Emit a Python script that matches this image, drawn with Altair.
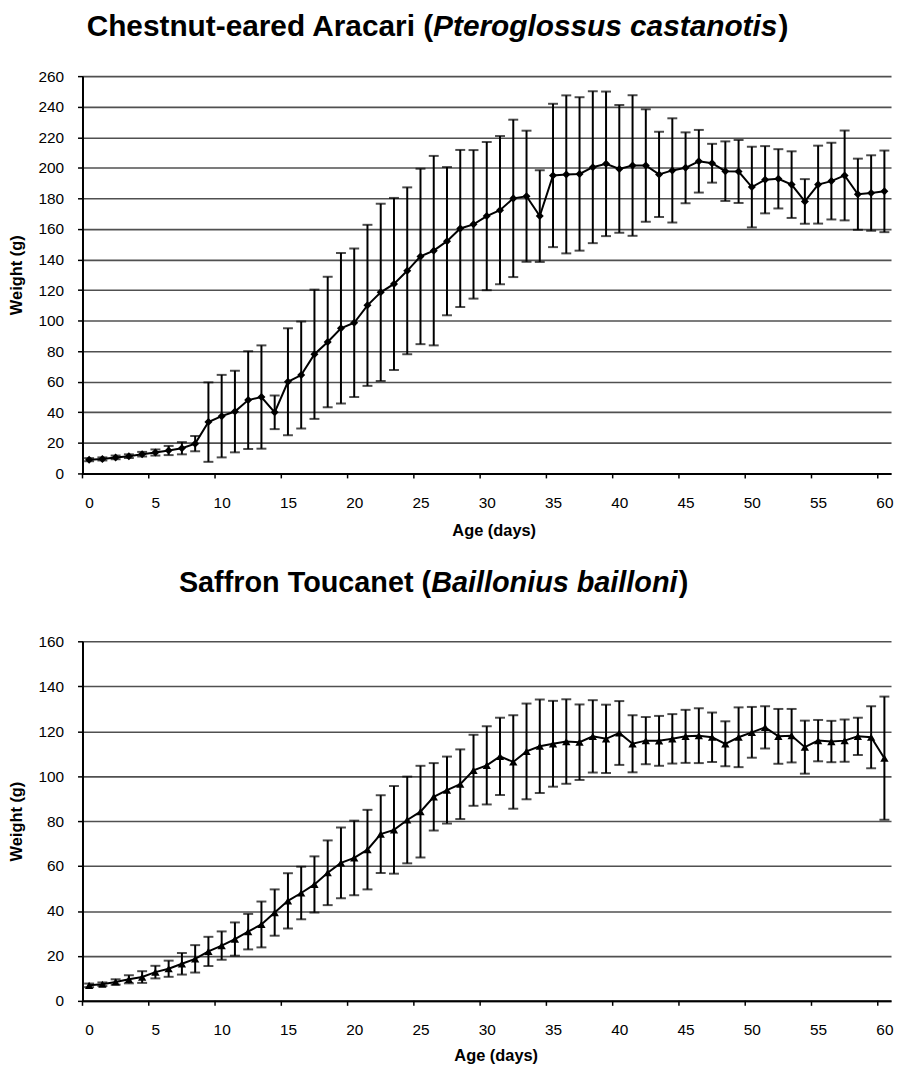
import altair as alt
import pandas as pd

# ---------------- data ----------------
days = list(range(61))

aracari_mean = [9.0, 9.5, 10.5, 11.3, 12.6, 13.7, 15.0, 16.5, 19.5, 33.6,
                37.5, 40.5, 48.0, 50.0, 40.0, 60.0, 64.4, 78.0, 86.0, 95.0,
                98.6, 110.0, 118.5, 124.0, 132.6, 142.0, 145.8, 152.0, 160.3, 163.0,
                168.4, 172.3, 180.0, 181.4, 168.4, 195.0, 195.7, 196.0, 200.4, 202.6,
                199.3, 201.5, 201.5, 195.7, 198.3, 200.0, 204.3, 203.0, 197.8, 197.6,
                187.4, 192.2, 192.8, 189.0, 178.0, 189.0, 191.3, 195.0, 182.7, 183.5,
                184.6]
aracari_sd = [1.0, 1.0, 1.2, 1.2, 1.5, 2.0, 3.0, 4.0, 5.0, 26.0,
              27.0, 26.7, 32.0, 33.8, 11.0, 35.0, 35.0, 42.3, 42.7, 49.3,
              48.6, 52.7, 58.0, 56.3, 54.6, 57.4, 62.0, 48.5, 51.4, 48.6,
              48.5, 48.5, 51.5, 42.9, 30.0, 46.9, 51.7, 50.2, 49.7, 47.3,
              41.8, 46.0, 36.8, 27.9, 34.1, 23.2, 20.5, 12.7, 19.5, 20.6,
              26.4, 22.0, 19.4, 21.8, 14.6, 25.5, 25.1, 29.4, 23.3, 24.7,
              26.7]

toucanet_mean = [6.9, 7.4, 8.4, 9.6, 10.6, 12.8, 14.3, 16.5, 18.7, 22.0,
                 24.6, 27.5, 30.8, 34.0, 39.3, 44.5, 48.0, 51.8, 57.0, 61.4,
                 63.6, 67.3, 74.2, 76.1, 80.5, 84.2, 90.8, 93.8, 96.4, 102.6,
                 104.8, 108.8, 106.3, 111.0, 113.3, 114.4, 115.4, 115.1, 117.7, 116.6,
                 119.2, 114.4, 115.8, 115.7, 116.6, 117.7, 118.0, 117.3, 114.4, 117.3,
                 119.5, 121.7, 117.7, 118.0, 112.9, 115.8, 115.4, 115.8, 117.7, 117.3,
                 108.0]
toucanet_sd = [0.8, 0.8, 1.2, 1.8, 2.6, 2.8, 3.6, 4.8, 6.1, 6.5,
               6.3, 7.4, 7.9, 10.2, 10.3, 12.3, 11.7, 12.5, 14.4, 15.7,
               16.6, 17.7, 17.3, 19.5, 19.3, 20.4, 15.0, 14.9, 15.5, 15.8,
               17.4, 17.2, 20.8, 21.3, 20.8, 19.1, 18.8, 16.8, 16.1, 15.2,
               14.2, 12.7, 10.5, 11.1, 11.0, 11.8, 12.2, 11.0, 10.0, 13.3,
               11.3, 9.4, 12.2, 11.9, 11.8, 9.2, 9.2, 9.4, 8.3, 13.8,
               27.4]

x_label_values = list(range(0, 61, 5))
x_tick_positions = [-0.5 + 5 * i for i in range(13)]   # category boundaries
aracari_yticks = list(range(0, 261, 20))
toucanet_yticks = list(range(0, 161, 20))

title_top = ["Chestnut-eared Aracari (", "Pteroglossus castanotis", ")"]
title_bottom = ["Saffron Toucanet (", "Baillonius bailloni", ")"]

FONT = "Liberation Sans"
W = 814


def panel(mean, sd, yticks, height, shape, msize, tparts, t_y, t_split, t_fs,
          t_close_dx, xtitle_x, xtitle_y):
    df = pd.DataFrame({
        "day": days,
        "w": mean,
        "lo": [m - s for m, s in zip(mean, sd)],
        "hi": [m + s for m, s in zip(mean, sd)],
    })
    ymax = yticks[-1]
    xscale = alt.Scale(domain=[-0.5, 60.5], nice=False, zero=False)
    xaxis = alt.Axis(
        values=x_label_values,
        format="d",
        labelFlush=False,
        labelOverlap=False,
        labelFont=FONT, labelFontSize=15.5, labelColor="black",
        labelPadding=22,
        ticks=False,
        domainColor="black", domainWidth=2,
        grid=False,
        title="Age (days)",
        titleFont=FONT, titleFontSize=16.5, titleFontWeight="bold",
        titleColor="black",
        titleX=xtitle_x, titleY=xtitle_y,
        titleAlign="center", titleBaseline="alphabetic",
    )
    yscale = alt.Scale(domain=[0, ymax], nice=False, zero=True)
    yaxis = alt.Axis(
        values=yticks,
        format="d",
        labelFlush=False,
        labelOverlap=False,
        labelFont=FONT, labelFontSize=15.5, labelColor="black",
        labelPadding=14,
        tickSize=5, tickColor="black", tickWidth=1.5,
        domainColor="black", domainWidth=2,
        grid=True, gridColor="#505050", gridWidth=1.6,
        title="Weight (g)",
        titleFont=FONT, titleFontSize=16.5, titleFontWeight="bold",
        titleColor="black",
        titleAngle=270, titleX=-66, titleY=height / 2,
        titleAlign="center", titleBaseline="middle",
    )

    def X(field):
        return alt.X(field, scale=xscale, axis=xaxis)

    def Y(field):
        return alt.Y(field, scale=yscale, axis=yaxis)

    base = alt.Chart(df)
    rules = base.mark_rule(color="black", strokeWidth=2).encode(
        x=X("day:Q"), y=Y("lo:Q"), y2="hi:Q")
    cap_hi = base.mark_tick(orient="horizontal", color="black", size=10,
                            thickness=2).encode(x=X("day:Q"), y=Y("hi:Q"))
    cap_lo = base.mark_tick(orient="horizontal", color="black", size=10,
                            thickness=2).encode(x=X("day:Q"), y=Y("lo:Q"))
    line = base.mark_line(color="black", strokeWidth=2).encode(
        x=X("day:Q"), y=Y("w:Q"))
    pts = base.mark_point(shape=shape, filled=True, color="black", size=msize,
                          opacity=1).encode(x=X("day:Q"), y=Y("w:Q"))

    # x-axis tick marks at category boundaries (Excel category-axis style)
    tick_df = pd.DataFrame({"pos": x_tick_positions})
    xticks = alt.Chart(tick_df).mark_rule(color="black", strokeWidth=1.5).encode(
        x=X("pos:Q"), y=alt.value(height), y2=alt.value(height + 5))

    tdf = pd.DataFrame({"a": [tparts[0]], "b": [tparts[1]], "c": [tparts[2]]})
    tbase = alt.Chart(tdf)
    t1 = tbase.mark_text(font=FONT, fontSize=t_fs, fontWeight="bold", align="right",
                         baseline="top", color="black").encode(
        text="a:N", x=alt.value(t_split), y=alt.value(t_y))
    t2 = tbase.mark_text(font=FONT, fontSize=t_fs, fontWeight="bold", fontStyle="italic",
                         align="left", baseline="top", color="black").encode(
        text="b:N", x=alt.value(t_split), y=alt.value(t_y))
    t3 = tbase.mark_text(font=FONT, fontSize=t_fs, fontWeight="bold", align="left",
                         baseline="top", color="black").encode(
        text="c:N", x=alt.value(t_split + t_close_dx), y=alt.value(t_y))

    return alt.layer(rules, cap_hi, cap_lo, line, pts, xticks, t1, t2, t3).properties(
        width=W, height=height)


top = panel(aracari_mean, aracari_sd, aracari_yticks, 400, "diamond", 65,
            title_top, -64, 353, 30, 11.559 * 30 + 1, 414, 62)
bottom = panel(toucanet_mean, toucanet_sd, toucanet_yticks, 362, "triangle-up", 70,
               title_bottom, -73, 351, 29, 8.558 * 29 + 1, 416, 60)

chart = alt.vconcat(top, bottom, spacing=169, bounds="flush").properties(
    padding={"left": 0, "top": 0, "right": 0, "bottom": 0}
).configure(font=FONT).configure_view(stroke="transparent")

chart.save("out.html", embed_options={"renderer": "svg", "actions": False})
